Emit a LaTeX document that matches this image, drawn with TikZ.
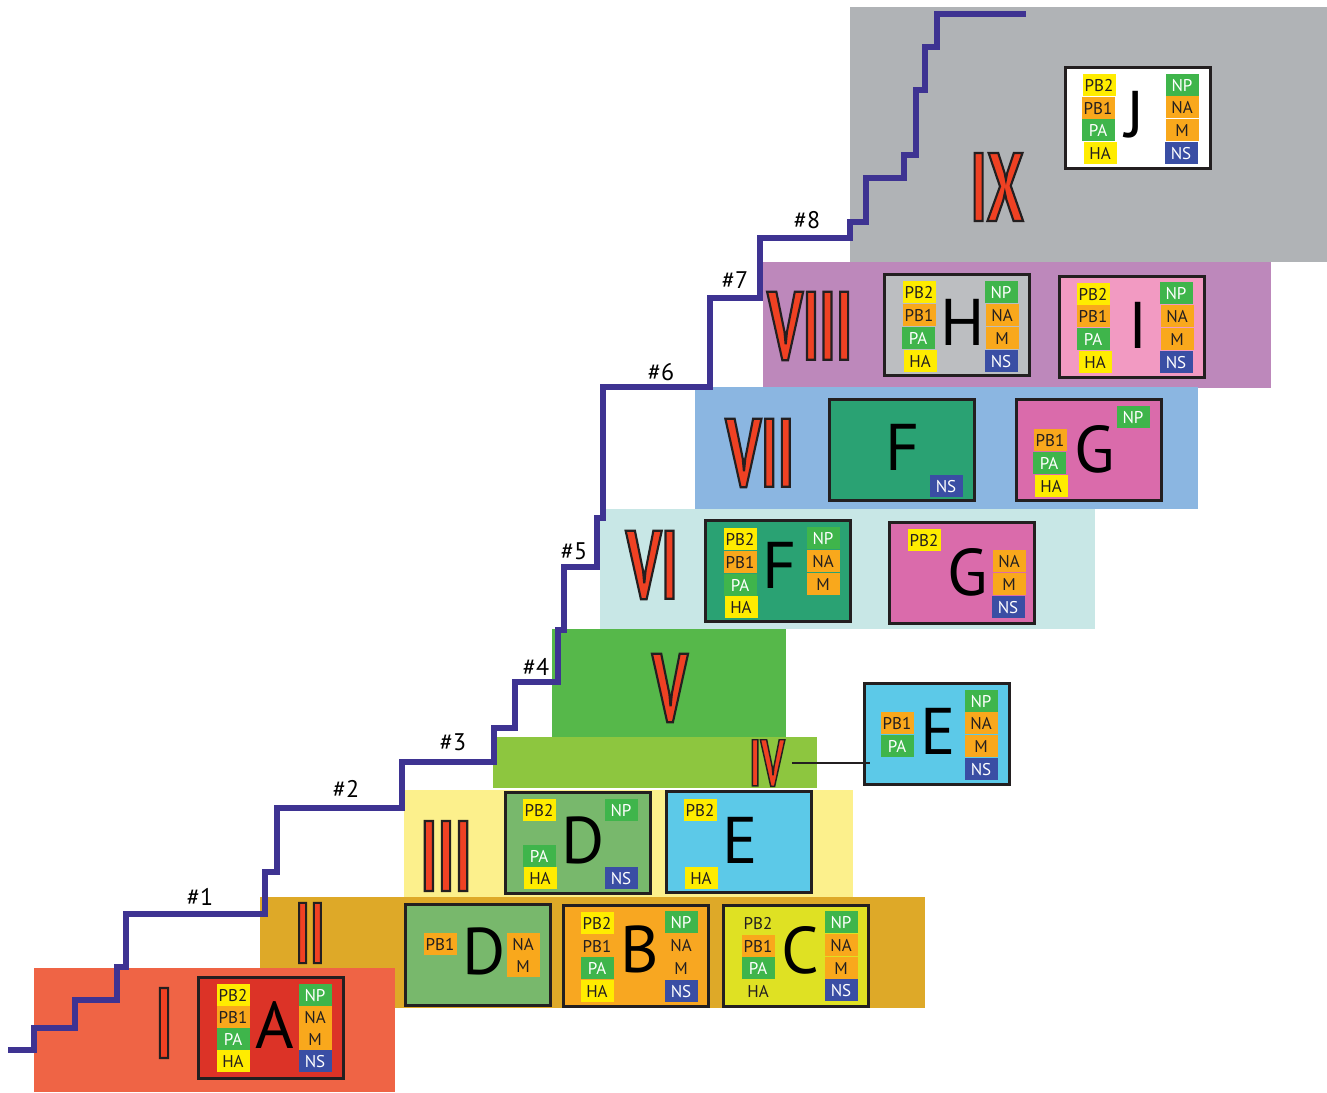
\documentclass[tikz,border=0pt]{standalone}
\usepackage{fontspec}
\setmainfont{PT Sans}
\newfontfamily\numfont{PT Sans}[UprightFont={* Bold}, FakeStretch=0.6, FakeBold=2.2]
% dark stroke round the numerals
\newcommand\numstroke{\special{pdf:code 0.137 0.122 0.125 RG}}

\definecolor{inkc}{HTML}{231F20}
\definecolor{stairc}{HTML}{3E3392}
\definecolor{numred}{HTML}{EF4123}
% step bands
\definecolor{bandI}{HTML}{EF6445}
\definecolor{bandII}{HTML}{DEA928}
\definecolor{bandIII}{HTML}{FCF08C}
\definecolor{bandIV}{HTML}{8DC63F}
\definecolor{bandV}{HTML}{56B84A}
\definecolor{bandVI}{HTML}{C8E7E6}
\definecolor{bandVII}{HTML}{8BB6E1}
\definecolor{bandVIII}{HTML}{BD88BB}
\definecolor{bandIX}{HTML}{B0B3B6}
% cards
\definecolor{cardA}{HTML}{DC3327}
\definecolor{cardD}{HTML}{78B86C}
\definecolor{cardB}{HTML}{F8A721}
\definecolor{cardC}{HTML}{DFE123}
\definecolor{cardE}{HTML}{5CC9E8}
\definecolor{cardF}{HTML}{2AA273}
\definecolor{cardG}{HTML}{DA6BAB}
\definecolor{cardH}{HTML}{BCBEC1}
\definecolor{cardI}{HTML}{F29AC2}
% tags
\definecolor{tyel}{HTML}{FFEC00}
\definecolor{torg}{HTML}{F9A81C}
\definecolor{tgrn}{HTML}{3FB54B}
\definecolor{tblu}{HTML}{3A4EA4}

\begin{document}
\begin{tikzpicture}[x=1pt, y=-1pt,
  tag/.style={inner sep=0pt, minimum width=33pt, minimum height=22pt, text height=12pt, text depth=0pt, font=\fontsize{17}{20}\selectfont, text=inkc},
  tagyel/.style={tag, fill=tyel},
  tagorg/.style={tag, fill=torg},
  taggrn/.style={tag, fill=tgrn, text=white},
  tagblu/.style={tag, fill=tblu, text=white},
  tagpln/.style={tag},
  card/.style={draw=inkc, line width=2.5pt, inner sep=0pt, minimum width=145pt, minimum height=101pt},
  letter/.style={inner sep=0pt, font=\fontsize{66}{70}\selectfont, text=black},
  numeral/.style={inner sep=0pt, text=numred, font=\numfont\fontsize{97}{100}\selectfont},
  steplbl/.style={inner sep=0pt, font=\fontsize{24}{28}\selectfont},
  stair/.style={draw=stairc, line width=6pt, line join=miter},
  link/.style={draw=inkc, line width=1.5pt}]
\useasboundingbox (0,0) rectangle (1327,1092);
% Step bands, top to bottom
\fill[bandIX] (850,7) rectangle (1327,262);
\fill[bandVIII] (763,262) rectangle (1271,388);
\fill[bandVII] (695,387) rectangle (1198,509);
\fill[bandVI] (600,509) rectangle (1095,629);
\fill[bandV] (552,629) rectangle (786,737);
\fill[bandIV] (493,737) rectangle (817,788);
\fill[bandIII] (404,790) rectangle (853,897);
\fill[bandII] (260,897) rectangle (925,1008);
\fill[bandI] (34,968) rectangle (395,1092);
% Staircase
\draw[stair] (8,1050) -- (34,1050) -- (34,1028) -- (75,1028) -- (75,1000) -- (117,1000) -- (117,967) -- (126,967) -- (126,914) -- (265,914) -- (265,872) -- (277,872) -- (277,808) -- (402,808) -- (402,762) -- (494,762) -- (494,728) -- (515,728) -- (515,682) -- (558,682) -- (558,630) -- (564,630) -- (564,567) -- (597,567) -- (597,518) -- (603,518) -- (603,387) -- (710,387) -- (710,298) -- (760,298) -- (760,238) -- (850,238) -- (850,222) -- (866,222) -- (866,178) -- (904,178) -- (904,155) -- (916,155) -- (916,90) -- (925,90) -- (925,47) -- (937,47) -- (937,14) -- (1026,14);
\foreach \n/\x/\y in {1/200/897,2/346/789,3/453/742,4/536/667,5/574/551,6/661/372,7/735/280,8/807/220} {
  \node[steplbl] (s\n) at (\x,\y) {\#\n};
}
% Numerals
\node[numeral, font=\numfont\fontsize{100}{100}\selectfont] (nI) at (164,1023) {\numstroke I};
\node[numeral, font=\numfont\fontsize{86}{90}\selectfont] (nII) at (310,933) {\numstroke II};
\node[numeral, font=\numfont\fontsize{100}{100}\selectfont] (nIII) at (446,856) {\numstroke III};
\node[numeral, font=\numfont\fontsize{66}{70}\selectfont] (nIV) at (767,763) {\numstroke IV};
\node[numeral] (nV) at (670,688) {\numstroke V};
\node[numeral] (nVI) at (652,565) {\numstroke VI};
\node[numeral] (nVII) at (760,453) {\numstroke VII};
\node[numeral] (nVIII) at (810,326) {\numstroke VIII};
\node[numeral] (nIX) at (997,187) {\numstroke IX};
% Step I
\node[card, fill=cardA] (cA) at (271,1028) {};
\node[letter] (lA) at (275,1025) {A};
\foreach \x/\y/\t/\s in {233/995/PB2/tagyel,233/1017/PB1/tagorg,233/1039/PA/taggrn,233/1061/HA/tagyel,315/995/NP/taggrn,315/1017/NA/tagorg,315/1039/M/tagorg,315/1061/NS/tagblu} {
  \node[\s] (A-\t) at (\x,\y) {\t};
}
% Step II
\node[card, fill=cardD] (cD1) at (478,955) {};
\node[letter] (lD1) at (484,951) {D};
\foreach \x/\y/\t/\s in {440/944/PB1/tagorg,523/944/NA/tagorg,523/966/M/tagorg} {
  \node[\s] (D1-\t) at (\x,\y) {\t};
}
\node[card, fill=cardB] (cB) at (636,956) {};
\node[letter] (lB) at (640,949) {B};
\foreach \x/\y/\t/\s in {597/923/PB2/tagyel,597/946/PB1/tagpln,597/968/PA/taggrn,597/991/HA/tagyel,681/922/NP/taggrn,681/945/NA/tagpln,681/968/M/tagpln,681/991/NS/tagblu} {
  \node[\s] (B-\t) at (\x,\y) {\t};
}
\node[card, fill=cardC] (cC) at (796,956) {};
\node[letter] (lC) at (800,950) {C};
\foreach \x/\y/\t/\s in {758/923/PB2/tagpln,758/946/PB1/tagorg,758/968/PA/taggrn,758/991/HA/tagpln,841/922/NP/taggrn,841/945/NA/tagorg,841/968/M/tagorg,841/990/NS/tagblu} {
  \node[\s] (C-\t) at (\x,\y) {\t};
}
% Step III
\node[card, fill=cardD] (cD2) at (578,843) {};
\node[letter] (lD2) at (583,840) {D};
\foreach \x/\y/\t/\s in {539/810/PB2/tagyel,539/856/PA/taggrn,540/878/HA/tagyel,621/810/NP/taggrn,621/878/NS/tagblu} {
  \node[\s] (D2-\t) at (\x,\y) {\t};
}
\node[card, fill=cardE] (cE1) at (739,842) {};
\node[letter] (lE1) at (740,840) {E};
\foreach \x/\y/\t/\s in {700/810/PB2/tagyel,701/878/HA/tagyel} {
  \node[\s] (E1-\t) at (\x,\y) {\t};
}
% Step IV
\node[card, fill=cardE] (cE2) at (937,734) {};
\node[letter] (lE2) at (938,731) {E};
\foreach \x/\y/\t/\s in {897/723/PB1/tagorg,897/746/PA/taggrn,981/701/NP/taggrn,981/723/NA/tagorg,981/746/M/tagorg,981/769/NS/tagblu} {
  \node[\s] (E2-\t) at (\x,\y) {\t};
}
\draw[link] ([xshift=7pt]nIV.east) -- ([xshift=7pt]nIV.east -| cE2.west);
% Step VI
\node[card, fill=cardF] (cF1) at (778,571) {};
\node[letter] (lF1) at (780,565) {F};
\foreach \x/\y/\t/\s in {740/539/PB2/tagyel,740/562/PB1/tagorg,740/585/PA/taggrn,741/607/HA/tagyel,823/538/NP/taggrn,823/561/NA/tagorg,823/584/M/tagorg} {
  \node[\s] (F1-\t) at (\x,\y) {\t};
}
\node[card, fill=cardG] (cG1) at (962,573) {};
\node[letter] (lG1) at (968,572) {G};
\foreach \x/\y/\t/\s in {924/540/PB2/tagyel,1009/561/NA/tagorg,1009/584/M/tagorg,1008/607/NS/tagblu} {
  \node[\s] (G1-\t) at (\x,\y) {\t};
}
% Step VII
\node[card, fill=cardF] (cF2) at (902,450) {};
\node[letter] (lF2) at (903,447) {F};
\node[tagblu] (F2-NS) at (946,486) {NS};
\node[card, fill=cardG] (cG2) at (1089,450) {};
\node[letter] (lG2) at (1095,449) {G};
\foreach \x/\y/\t/\s in {1050/440/PB1/tagorg,1049/463/PA/taggrn,1051/486/HA/tagyel,1133/417/NP/taggrn} {
  \node[\s] (G2-\t) at (\x,\y) {\t};
}
% Step VIII
\node[card, fill=cardH] (cH) at (957,325) {};
\node[letter] (lH) at (963,322) {H};
\foreach \x/\y/\t/\s in {919/292/PB2/tagyel,919/315/PB1/tagorg,918/338/PA/taggrn,920/361/HA/tagyel,1001/292/NP/taggrn,1002/315/NA/tagorg,1002/338/M/tagorg,1001/361/NS/tagblu} {
  \node[\s] (H-\t) at (\x,\y) {\t};
}
\node[card, fill=cardI] (cI) at (1132,327) {};
\node[letter] (lI) at (1138,325) {I};
\foreach \x/\y/\t/\s in {1093/294/PB2/tagyel,1093/316/PB1/tagorg,1093/339/PA/taggrn,1095/362/HA/tagyel,1176/293/NP/taggrn,1177/316/NA/tagorg,1177/339/M/tagorg,1176/362/NS/tagblu} {
  \node[\s] (I-\t) at (\x,\y) {\t};
}
% Step IX
\node[card, fill=white] (cJ) at (1138,118) {};
\node[letter] (lJ) at (1135,115) {J};
\foreach \x/\y/\t/\s in {1099/85/PB2/tagyel,1098/108/PB1/tagorg,1098/130/PA/taggrn,1100/153/HA/tagyel,1182/85/NP/taggrn,1182/107/NA/tagorg,1182/130/M/tagorg,1181/153/NS/tagblu} {
  \node[\s] (J-\t) at (\x,\y) {\t};
}
\end{tikzpicture}
\end{document}
